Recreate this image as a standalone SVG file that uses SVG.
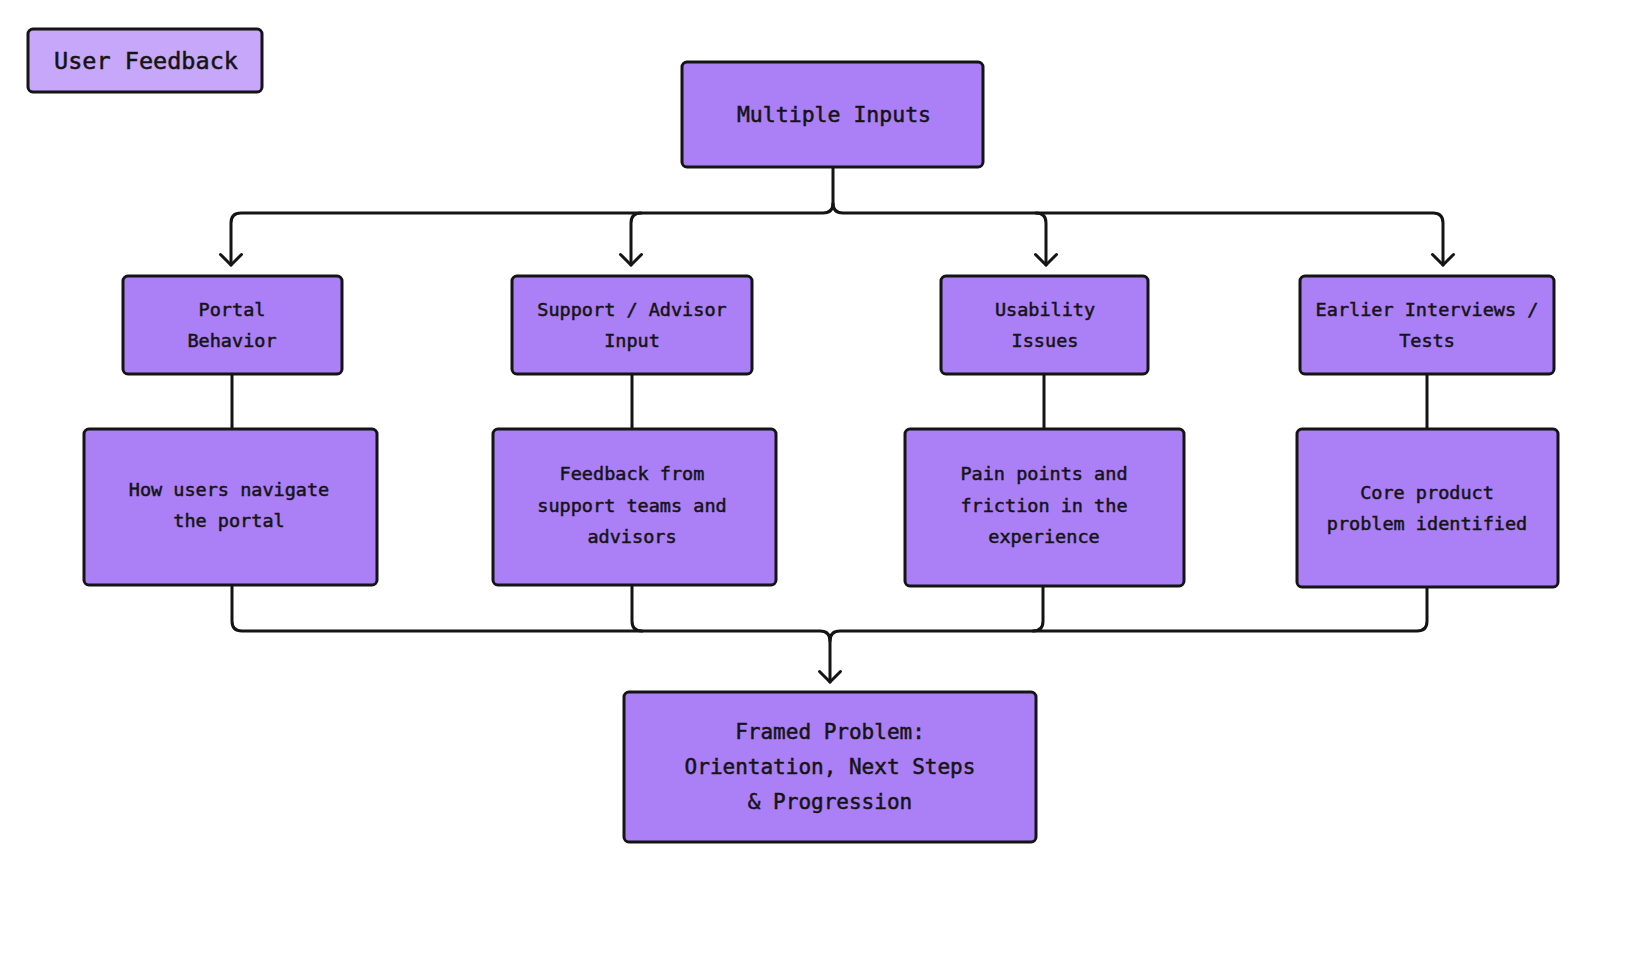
<svg xmlns="http://www.w3.org/2000/svg" width="1647" height="955" viewBox="0 0 1647 955">
<style>
.box{fill:#ab7ff5;stroke:#141414;stroke-width:3;}
.light{fill:#c6a7f9;}
.t{font-family:"DejaVu Sans Mono","Liberation Mono",monospace;fill:#141414;stroke:#141414;stroke-width:0.5px;text-anchor:middle;dominant-baseline:central;font-size:18.5px;}
.c{fill:none;stroke:#141414;stroke-width:3;stroke-linecap:round;stroke-linejoin:round;}
</style>
<defs>
<marker id="ah" viewBox="-14 -14 28 28" refX="0" refY="0" markerWidth="28" markerHeight="28" orient="auto" markerUnits="userSpaceOnUse">
<path d="M-10.5,-10.5 L0,0 L-10.5,10.5" fill="none" stroke="#141414" stroke-width="3" stroke-linecap="round" stroke-linejoin="round"/>
</marker>
</defs>
<rect width="1647" height="955" fill="#ffffff"/>
<g id="connectors">
<path class="c" d="M833,167 V203 Q833,213 823,213 H241 Q231,213 231,223 V265" marker-end="url(#ah)"/>
<path class="c" d="M833,203 Q833,213 843,213 H1433 Q1443,213 1443,223 V265" marker-end="url(#ah)"/>
<path class="c" d="M641,213 Q631,213 631,223 V265" marker-end="url(#ah)"/>
<path class="c" d="M1036,213 Q1046,213 1046,223 V265" marker-end="url(#ah)"/>
<path class="c" d="M232,374 V429"/>
<path class="c" d="M632,374 V429"/>
<path class="c" d="M1044,374 V429"/>
<path class="c" d="M1427,374 V429"/>
<path class="c" d="M232,585 V621 Q232,631 242,631 H820 Q830,631 830,641 V682" marker-end="url(#ah)"/>
<path class="c" d="M1427,587 V621 Q1427,631 1417,631 H840 Q830,631 830,641"/>
<path class="c" d="M632,585 V621 Q632,631 642,631"/>
<path class="c" d="M1043,587 V621 Q1043,631 1033,631"/>
</g>
<g id="user-feedback">
<rect class="box light" x="28" y="29" width="234" height="63" rx="5"/>
<text class="t" x="146" y="61" style="font-size:23.5px">User Feedback</text>
</g>
<g id="multiple-inputs">
<rect class="box" x="682" y="62" width="301" height="105" rx="5"/>
<text class="t" x="834" y="114" style="font-size:21.5px">Multiple Inputs</text>
</g>
<g id="portal-behavior">
<rect class="box" x="123" y="276" width="219" height="98" rx="5"/>
<text class="t" x="232" y="309">Portal</text>
<text class="t" x="232" y="340">Behavior</text>
</g>
<g id="support-advisor">
<rect class="box" x="512" y="276" width="240" height="98" rx="5"/>
<text class="t" x="632" y="309">Support / Advisor</text>
<text class="t" x="632" y="340">Input</text>
</g>
<g id="usability-issues">
<rect class="box" x="941" y="276" width="207" height="98" rx="5"/>
<text class="t" x="1045" y="309">Usability</text>
<text class="t" x="1045" y="340">Issues</text>
</g>
<g id="earlier-interviews">
<rect class="box" x="1300" y="276" width="254" height="98" rx="5"/>
<text class="t" x="1427" y="309">Earlier Interviews /</text>
<text class="t" x="1427" y="340">Tests</text>
</g>
<g id="how-users-navigate">
<rect class="box" x="84" y="429" width="293" height="156" rx="5"/>
<text class="t" x="229" y="489">How users navigate</text>
<text class="t" x="229" y="520">the portal</text>
</g>
<g id="feedback-support">
<rect class="box" x="493" y="429" width="283" height="156" rx="5"/>
<text class="t" x="632" y="473">Feedback from</text>
<text class="t" x="632" y="505">support teams and</text>
<text class="t" x="632" y="536">advisors</text>
</g>
<g id="pain-points">
<rect class="box" x="905" y="429" width="279" height="157" rx="5"/>
<text class="t" x="1044" y="473">Pain points and</text>
<text class="t" x="1044" y="505">friction in the</text>
<text class="t" x="1044" y="536">experience</text>
</g>
<g id="core-product">
<rect class="box" x="1297" y="429" width="261" height="158" rx="5"/>
<text class="t" x="1427" y="492">Core product</text>
<text class="t" x="1427" y="523">problem identified</text>
</g>
<g id="framed-problem">
<rect class="box" x="624" y="692" width="412" height="150" rx="5"/>
<text class="t" x="830" y="732" style="font-size:21px">Framed Problem:</text>
<text class="t" x="830" y="767" style="font-size:21px">Orientation, Next Steps</text>
<text class="t" x="830" y="802" style="font-size:21px">&amp; Progression</text>
</g>
</svg>
